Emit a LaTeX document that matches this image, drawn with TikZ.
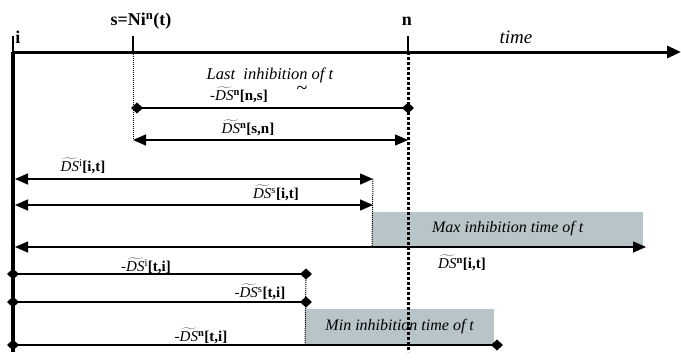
\documentclass[tikz,border=0pt]{standalone}
\usepackage{fontspec}
\setmainfont{Liberation Serif}
\usetikzlibrary{arrows.meta}
\newcommand{\DSt}{$\widetilde{\mathit{DS}}$}
\begin{document}
\begin{tikzpicture}[x=1pt,y=-1pt,
  span/.style={line width=1.4pt},
  bitri/.style={{Triangle[length=13pt,width=11pt]}-{Triangle[length=13pt,width=11pt]}},
  dia/.style={{Diamond[length=12pt,width=11pt]}-{Diamond[length=12pt,width=11pt]},shorten <=-6pt,shorten >=-6pt},
  lbl/.style={font=\fontsize{15}{17}\selectfont,inner sep=0pt},
  ital/.style={font=\fontsize{16.5}{19}\selectfont\itshape,inner sep=0pt},
  boxtxt/.style={font=\fontsize{16}{18}\selectfont\itshape,inner sep=0pt},
  boldlbl/.style={font=\fontsize{18}{20}\selectfont\bfseries,inner sep=0pt},
  thindot/.style={line width=1pt,dash pattern=on 1pt off 1pt},
  thickdot/.style={line width=3pt,dash pattern=on 3pt off 2pt},
  graybox/.style={fill=gray1,draw=none}]
\definecolor{gray1}{RGB}{183,196,200}
\useasboundingbox (0,0) rectangle (681,360);
% coordinates
\coordinate (i) at (13,52);
\coordinate (iTop) at (13,36);
\coordinate (iBot) at (13,352);
\coordinate (axEnd) at (681,52);
\coordinate (s) at (133,52);
\coordinate (sTop) at (133,36);
\coordinate (n) at (408,52);
\coordinate (nTop) at (408,36);
\coordinate (nBot) at (408,352);
% gray boxes
\node[graybox,minimum width=271pt,minimum height=34pt,anchor=south west,inner sep=0pt] (maxbox) at (372,246) {};
\node[graybox,minimum width=189pt,minimum height=36pt,anchor=south west,inner sep=0pt] (minbox) at (305,345) {};
% axis
\draw[line width=3pt,-{Triangle[length=14pt,width=12pt]}] (i) -- (axEnd);
\draw[line width=4.5pt] (i) -- (iBot);
\draw[line width=1.2pt] (iTop) -- (i);
\draw[line width=1.2pt] (sTop) -- (s);
\draw[line width=1.2pt] (nTop) -- (n);
\draw[thickdot] (n) -- (nBot);
% labels on axis
\node[boldlbl] (li) at (18,37) {i};
\node[boldlbl] (ls) at (141,21) {s=Ni\textsuperscript{n}(t)};
\node[boldlbl] (ln) at (407,21) {n};
\node[font=\fontsize{19}{21}\selectfont\itshape,inner sep=0pt] (ltime) at (516,37) {time};
% dotted verticals
\coordinate (s2) at (133,140);
\draw[thindot] (s) -- (s2);
% line 1
\coordinate (a1) at (137,108);
\coordinate (b1) at (408,108);
\draw[span,dia] (a1) -- (b1);
\node[ital] (last) at (270,75) {Last\ \ inhibition of t};
\node[lbl] (l1) at (239,95) {\textit{-}\DSt\textsuperscript{\textbf{n}}\textbf{[n,s]}};
\node[font=\fontsize{20}{20}\selectfont,inner sep=0pt] (tl) at (302,90) {\textasciitilde};
% line 2
\coordinate (a2) at (133,140);
\coordinate (b2) at (408,140);
\draw[span,bitri] (a2) -- (b2);
\node[lbl] (l2) at (248,128) {\DSt\textsuperscript{\textbf{n}}\textbf{[s,n]}};
% line 3
\coordinate (a3) at (15,179);
\coordinate (b3) at (373,179);
\draw[span,bitri] (a3) -- (b3);
\node[lbl] (l3) at (83,166) {\DSt\textsuperscript{i}\textbf{[i,t]}};
% line 4
\coordinate (a4) at (15,205);
\coordinate (b4) at (373,205);
\draw[span,bitri] (a4) -- (b4);
\node[lbl] (l4) at (276,193) {\DSt\textsuperscript{s}\textbf{[i,t]}};
\draw[thindot] (b3) -- (maxbox.south west);
\node[boxtxt] (lmax) at (maxbox.center) {Max inhibition time of t};
% line 5
\coordinate (a5) at (15,247);
\coordinate (b5) at (646,247);
\draw[span,bitri] (a5) -- (b5);
\node[lbl] (l5) at (462,263) {\DSt\textsuperscript{\textbf{n}}\textbf{[i,t]}};
% line 6
\coordinate (a6) at (13,274);
\coordinate (b6) at (306,274);
\draw[span,dia] (a6) -- (b6);
\node[lbl] (l6) at (146,266) {\textit{-}\DSt\textsuperscript{i}\textbf{[t,i]}};
% line 7
\coordinate (a7) at (13,302);
\coordinate (b7) at (306,302);
\draw[span,dia] (a7) -- (b7);
\node[lbl] (l7) at (260,292) {\textit{-}\DSt\textsuperscript{s}\textbf{[t,i]}};
\draw[thindot] (b6) -- (minbox.south west);
\node[boxtxt] (lmin) at (minbox.center) {Min inhibition time of t};
% line 8
\coordinate (a8) at (13,345);
\coordinate (b8) at (497,345);
\draw[span,dia] (a8) -- (b8);
\node[lbl] (l8) at (201,336) {\textit{-}\DSt\textsuperscript{\textbf{n}}\textbf{[t,i]}};
\end{tikzpicture}
\end{document}
